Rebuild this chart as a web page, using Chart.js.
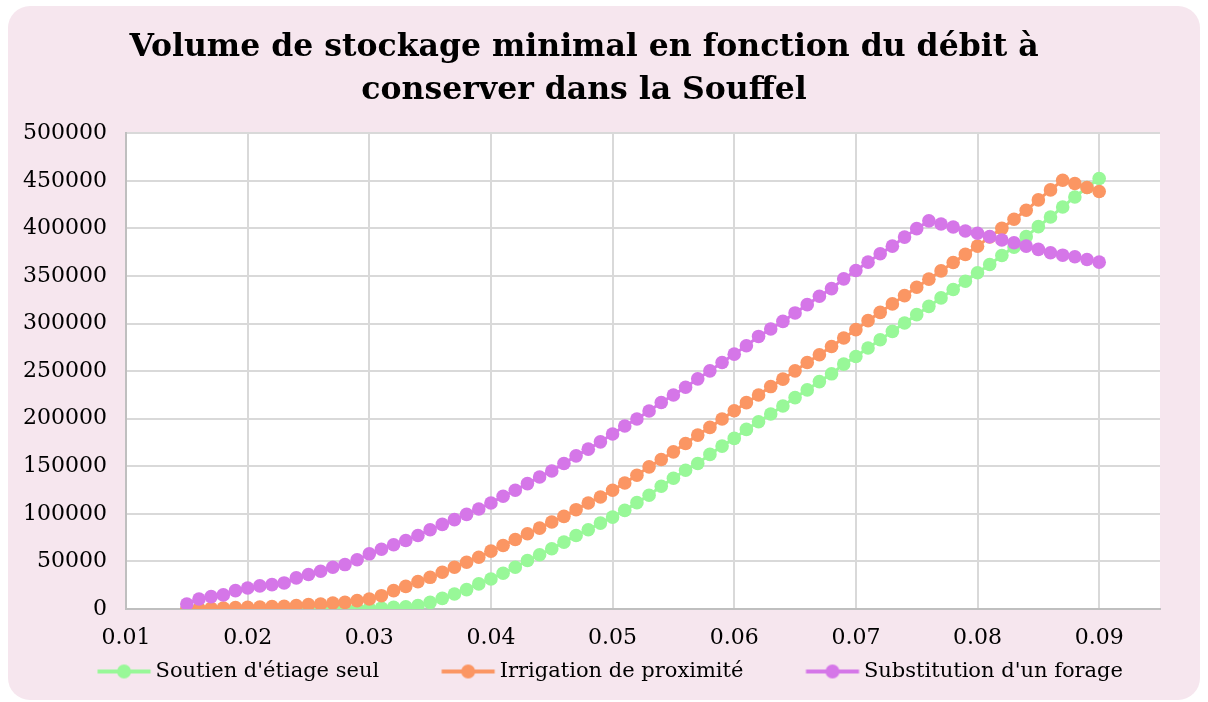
<!DOCTYPE html>
<html>
<head>
<meta charset="utf-8">
<script src="https://cdn.jsdelivr.net/npm/chart.js@4"></script>
<style>
  html, body { margin: 0; padding: 0; background: #ffffff; }
  #box {
    position: absolute; left: 8px; top: 6px; width: 1192px; height: 694px;
    background: #F6E6EE; border-radius: 22px; overflow: hidden;
  }
</style>
</head>
<body>
<div id="box"><canvas id="stockage" width="1192" height="694"></canvas></div>
<script>
const stockage = document.getElementById('stockage');

// débit à conserver (m3/s)
const debits = [
  0.015, 0.016, 0.017, 0.018, 0.019, 0.020, 0.021, 0.022, 0.023, 0.024,
  0.025, 0.026, 0.027, 0.028, 0.029, 0.030, 0.031, 0.032, 0.033, 0.034,
  0.035, 0.036, 0.037, 0.038, 0.039, 0.040, 0.041, 0.042, 0.043, 0.044,
  0.045, 0.046, 0.047, 0.048, 0.049, 0.050, 0.051, 0.052, 0.053, 0.054,
  0.055, 0.056, 0.057, 0.058, 0.059, 0.060, 0.061, 0.062, 0.063, 0.064,
  0.065, 0.066, 0.067, 0.068, 0.069, 0.070, 0.071, 0.072, 0.073, 0.074,
  0.075, 0.076, 0.077, 0.078, 0.079, 0.080, 0.081, 0.082, 0.083, 0.084,
  0.085, 0.086, 0.087, 0.088, 0.089, 0.090
];

const soutienEtiage = [
  0, 0, 0, 0, 0, 0, 0, 0, 0, 0,
  0, 0, 0, 200, 400, 600, 900, 1700, 2200, 3500,
  7000, 11200, 15800, 20400, 26400, 31600, 37600, 43900, 51000, 57000,
  63300, 70300, 77300, 83300, 90300, 96600, 103700, 111800, 119500, 129000,
  137400, 145900, 153000, 162500, 171200, 179300, 188800, 196800, 205000, 213400,
  222200, 230300, 239000, 247200, 257400, 265400, 274300, 283000, 291800, 300600,
  309400, 318100, 327000, 335800, 344500, 353400, 362100, 371600, 380400, 391400,
  401900, 412000, 422600, 433100, 443000, 452500
];

const irrigation = [
  0, 300, 700, 1000, 1400, 1800, 2100, 2500, 2800, 3500,
  4600, 5300, 6300, 7000, 8800, 10500, 14000, 19300, 23800, 28800,
  33300, 38600, 43900, 49200, 54400, 60800, 66800, 73100, 79100, 85000,
  91400, 97400, 104400, 111400, 117700, 124800, 132500, 140600, 149400, 157200,
  165200, 174000, 182800, 190900, 199700, 208400, 216900, 225000, 233800, 241600,
  250300, 259100, 267200, 275900, 284800, 293600, 303100, 311800, 320700, 329400,
  338200, 346700, 355400, 364200, 372700, 381400, 391000, 400100, 409600, 419100,
  430000, 440500, 450700, 447200, 443000, 438800
];

const substitution = [
  5300, 10500, 13000, 14800, 19300, 22100, 24300, 25600, 27400, 32700,
  36200, 39700, 43900, 46700, 51700, 58000, 62800, 67600, 72000, 77300,
  83300, 88900, 93900, 99500, 105100, 111400, 118500, 124800, 131800, 138800,
  145100, 153000, 161000, 168000, 175700, 183900, 192300, 199700, 208100, 217100,
  225000, 233100, 241900, 250300, 259100, 267900, 276700, 286500, 294300, 302300,
  311200, 319900, 328700, 336800, 347000, 355800, 364600, 373400, 381400, 390900,
  399800, 408000, 404700, 401500, 397300, 394900, 391400, 387800, 385000, 381400,
  378000, 374500, 371900, 370200, 367400, 364600
];

const serieNames = ["Soutien d'étiage seul", "Irrigation de proximité", "Substitution d'un forage"];
const serieColors = ['#98F898', '#FB9663', '#D576E8'];

function toPoints(values) {
  return values.map((v, i) => ({ x: debits[i], y: v }));
}

// petite icone ligne + rond pour la légende
function legendIcon(color) {
  const c = document.createElement('canvas');
  c.width = 120; c.height = 16;
  const ctx = c.getContext('2d');
  ctx.strokeStyle = color;
  ctx.lineWidth = 4;
  ctx.beginPath();
  ctx.moveTo(62.5, 8);
  ctx.lineTo(115.5, 8);
  ctx.stroke();
  ctx.fillStyle = color;
  ctx.beginPath();
  ctx.arc(89, 8, 7, 0, Math.PI * 2);
  ctx.fill();
  return c;
}

// fond blanc de la zone de tracé
const plotBackground = {
  id: 'plotBackground',
  beforeDraw(chart) {
    const {ctx, chartArea} = chart;
    ctx.save();
    ctx.fillStyle = '#ffffff';
    ctx.fillRect(chartArea.left, chartArea.top, chartArea.width, chartArea.height);
    ctx.restore();
  }
};

const fontFamily = '"DejaVu Serif", Georgia, serif';

new Chart(stockage, {
  type: 'line',
  data: {
    datasets: [
      {
        label: serieNames[0],
        data: toPoints(soutienEtiage),
        borderColor: serieColors[0],
        backgroundColor: serieColors[0],
        order: 3
      },
      {
        label: serieNames[1],
        data: toPoints(irrigation),
        borderColor: serieColors[1],
        backgroundColor: serieColors[1],
        order: 2
      },
      {
        label: serieNames[2],
        data: toPoints(substitution),
        borderColor: serieColors[2],
        backgroundColor: serieColors[2],
        order: 1
      }
    ]
  },
  plugins: [plotBackground],
  options: {
    responsive: false,
    animation: false,
    layout: { padding: { left: 0, right: 40, top: 0, bottom: 8 } },
    elements: {
      line: { borderWidth: 3, tension: 0 },
      point: { radius: 6.8, borderWidth: 0, hoverRadius: 6.8 }
    },
    scales: {
      x: {
        type: 'linear',
        min: 0.01,
        max: 0.095,
        ticks: {
          stepSize: 0.01,
          includeBounds: false,
          color: '#000',
          padding: 16,
          font: { family: fontFamily, size: 22 }
        },
        afterFit: (scale) => { scale.height = 42; },
        grid: { color: '#D9D9D9', lineWidth: 2, drawTicks: false },
        border: { color: '#BFBFBF', width: 2 }
      },
      y: {
        min: 0,
        max: 500000,
        ticks: {
          stepSize: 50000,
          color: '#000',
          padding: 19,
          font: { family: fontFamily, size: 22 },
          callback: (v) => String(v)
        },
        afterFit: (scale) => { scale.width = 118; },
        grid: { color: '#D9D9D9', lineWidth: 2, drawTicks: false },
        border: { color: '#BFBFBF', width: 2 }
      }
    },
    plugins: {
      title: {
        display: true,
        text: ['Volume de stockage minimal en fonction du débit à', 'conserver dans la Souffel'],
        color: '#000',
        font: { family: fontFamily, size: 31.5, weight: 'bold', lineHeight: 1.37 },
        padding: { top: 20, bottom: 21 }
      },
      legend: {
        position: 'bottom',
        labels: {
          color: '#000',
          font: { family: fontFamily, size: 21 },
          usePointStyle: true,
          pointStyleWidth: 100,
          padding: 10,
          sort: (a, b) => a.datasetIndex - b.datasetIndex,
          generateLabels: (chart) => chart.data.datasets.map((ds, i) => ({
            text: ds.label,
            fillStyle: ds.borderColor,
            strokeStyle: ds.borderColor,
            fontColor: '#000',
            lineWidth: 0,
            pointStyle: legendIcon(ds.borderColor),
            hidden: false,
            datasetIndex: i
          }))
        }
      },
      tooltip: { enabled: false }
    }
  }
});
</script>
</body>
</html>
